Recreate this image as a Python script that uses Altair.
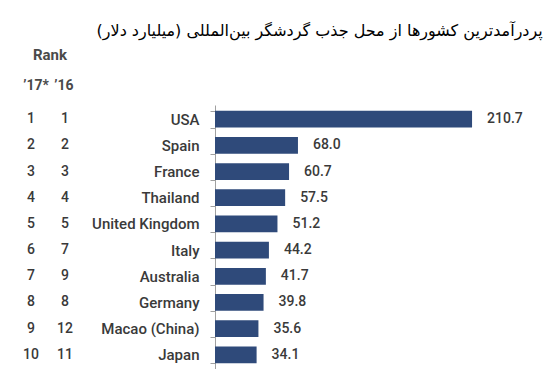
import altair as alt
import pandas as pd

countries = ["USA", "Spain", "France", "Thailand", "United Kingdom", "Italy",
             "Australia", "Germany", "Macao (China)", "Japan"]
values = [210.7, 68.0, 60.7, 57.5, 51.2, 44.2, 41.7, 39.8, 35.6, 34.1]
rank17 = [1, 2, 3, 4, 5, 6, 7, 8, 9, 10]
rank16 = [1, 2, 3, 4, 5, 7, 9, 8, 12, 11]
title_text = "پردرآمدترین کشورها از محل جذب گردشگر بین‌المللی (میلیارد دلار)"
headers = ["Rank", "’17*", "’16"]

df = pd.DataFrame({"country": countries, "value": values,
                   "r17": rank17, "r16": rank16})

FONT = "Roboto"
TXT = "#3a3a3a"
BAR = "#2f4a7a"

y = alt.Y("country:N", sort=countries, title=None,
          scale=alt.Scale(paddingInner=0.36, paddingOuter=0.22),
          axis=alt.Axis(tickBand="extent", domainColor="#a0a0a0", tickColor="#a0a0a0",
                        tickSize=5, labelPadding=11, labelFont=FONT, labelFontSize=15,
                        labelFontWeight=500, labelColor=TXT, grid=False))
x = alt.X("value:Q", scale=alt.Scale(domain=[0, 250]), axis=None)

base = alt.Chart(df)
bars = base.mark_bar(color=BAR).encode(x=x, y=y)
vals = base.mark_text(align="left", dx=15, font=FONT, fontSize=14, fontWeight=500,
                      color=TXT).encode(x=x, y=y, text=alt.Text("value:Q", format=".1f"))
r17 = base.mark_text(align="center", font=FONT, fontSize=14, fontWeight=500,
                     color=TXT).encode(x=alt.value(-184), y=y, text="r17:Q")
r16 = base.mark_text(align="center", font=FONT, fontSize=14, fontWeight=500,
                     color=TXT).encode(x=alt.value(-150), y=y, text="r16:Q")

def header(label, xpos, ypos, size):
    return alt.Chart(pd.DataFrame({"t": [label]})).mark_text(
        align="center", baseline="middle", font=FONT, fontSize=size, fontWeight="bold",
        color="#4a4a4a").encode(x=alt.value(xpos), y=alt.value(ypos), text="t:N")

h1 = header(headers[0], -165, -50, 15)
h2 = header(headers[1], -179, -19, 14)
h3 = header(headers[2], -151, -19, 14)

chart = alt.layer(bars, vals, r17, r16, h1, h2, h3).properties(
    width=305, height=264,
    autosize=alt.AutoSizeParams(type="none"),
    padding={"left": 207, "top": 97, "right": 23, "bottom": 0},
    title=alt.TitleParams(text=title_text, anchor="end", font="DejaVu Sans",
                          fontSize=16, fontWeight="normal", color="black", dx=20, offset=9),
).configure_view(stroke=None)

chart.save("out.html", embed_options={"renderer": "svg", "actions": False})
